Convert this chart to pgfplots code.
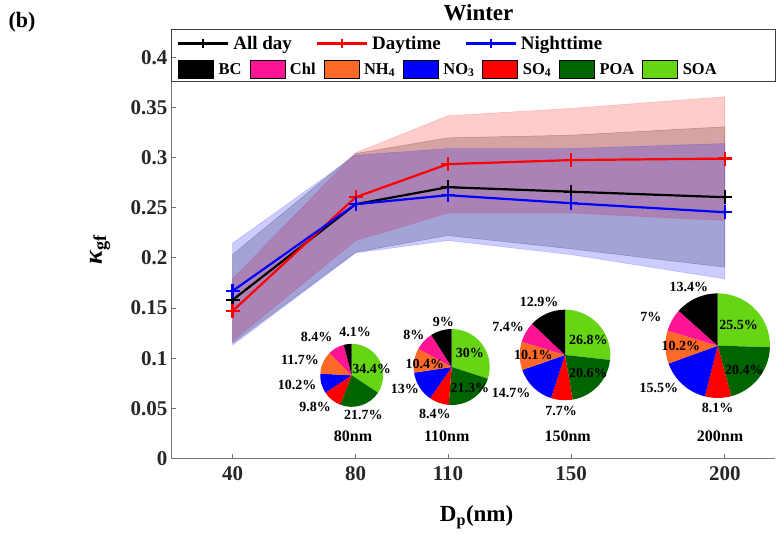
\documentclass[border=0pt]{standalone}
\usepackage{fontspec}
\setmainfont{Liberation Serif}
\usepackage{pgfplots}
\pgfplotsset{compat=1.18}
\definecolor{cSOA}{RGB}{102,214,20}
\definecolor{cPOA}{RGB}{0,100,0}
\definecolor{cSO}{RGB}{255,0,0}
\definecolor{cNO}{RGB}{0,0,255}
\definecolor{cNH}{RGB}{255,105,40}
\definecolor{cChl}{RGB}{255,20,147}
\definecolor{cBC}{RGB}{0,0,0}
\newcommand{\fs}[1]{\fontsize{#1}{#1}\selectfont}
\newcommand{\pie}[4]{%
  \gdef\curang{90}%
  \foreach \v/\c in {#4}{%
    \pgfmathsetmacro\endang{\curang-360*\v/#3}%
    \fill[\c] (#1) -- ++(\curang:#2) arc[start angle=\curang,end angle=\endang,radius=#2] -- cycle;%
    \xdef\curang{\endang}%
  }%
}
\begin{document}
\begin{tikzpicture}
\useasboundingbox (0,0) rectangle (776pt,533pt);
\begin{axis}[
  at={(171pt,74.5pt)}, anchor=south west,
  width=604pt, height=427.5pt, scale only axis,
  xmin=20, xmax=216.3, ymin=0, ymax=0.4262,
  axis x line*=bottom, axis y line*=left,
  axis line style={black!55, line width=0.8pt},
  tick align=inside, major tick length=5pt,
  tick style={black!55, line width=0.8pt},
  xtick={40,80,110,150,200},
  xticklabels={40,80,110,150,200},
  ytick={0,0.05,0.1,0.15,0.2,0.25,0.3,0.35,0.4},
  yticklabels={0,0.05,0.1,0.15,0.2,0.25,0.3,0.35,0.4},
  ticklabel style={font=\bfseries\fs{21}, text=black!85},
  xticklabel style={yshift=-4pt},
  xlabel={D\textsubscript{p}(nm)},
  xlabel style={font=\bfseries\fs{23}, at={(axis description cs:0.506,-0.1485)}, anchor=base},
  ylabel={{\itshape κ}\textsubscript{gf}},
  ylabel style={font=\bfseries\fs{26}, at={(axis description cs:-0.1175,0.488)}, anchor=center},
  title={Winter},
  title style={font=\bfseries\fs{23}, at={(axis description cs:0.509,1.01)}, anchor=base},
  legend columns=3,
  legend cell align=left,
  legend style={at={(axis description cs:0,1)}, anchor=north west, xshift=3pt, yshift=-1pt,
    draw=none, fill=none, font=\bfseries\fs{19},
    /tikz/every odd column/.append style={column sep=2pt},
    /tikz/every even column/.append style={column sep=22pt}},
  legend image code/.code={\draw[#1, mark size=4.5pt, mark repeat=2, mark phase=2] plot coordinates {(0pt,0pt) (25pt,0pt) (50pt,0pt)};},
]
% bands
\addplot[fill=black, fill opacity=0.2, draw=black, draw opacity=0.25, line width=0.5pt, forget plot]
  coordinates {(40,0.2033) (80,0.304) (110,0.3197) (150,0.3223) (200,0.3307)
               (200,0.1907) (150,0.209) (110,0.2223) (80,0.2057) (40,0.115)} -- cycle;
\addplot[fill=red, fill opacity=0.2, draw=red, draw opacity=0.2, line width=0.5pt, forget plot]
  coordinates {(40,0.179) (80,0.3047) (110,0.3417) (150,0.349) (200,0.3607)
               (200,0.2373) (150,0.2447) (110,0.2447) (80,0.2173) (40,0.117)} -- cycle;
\addplot[fill=blue, fill opacity=0.2, draw=blue, draw opacity=0.2, line width=0.5pt, forget plot]
  coordinates {(40,0.2146) (80,0.3023) (110,0.309) (150,0.309) (200,0.314)
               (200,0.179) (150,0.2033) (110,0.2173) (80,0.205) (40,0.113)} -- cycle;
% lines
\addplot[black, line width=2.2pt, mark=+, mark size=7pt]
  coordinates {(40,0.158) (80,0.2535) (110,0.2705) (150,0.266) (200,0.2605)};
\addlegendentry{All day}
\addplot[red, line width=2.2pt, mark=+, mark size=7pt]
  coordinates {(40,0.147) (80,0.2605) (110,0.2935) (150,0.2975) (200,0.299)};
\addlegendentry{Daytime}
\addplot[blue, line width=2.2pt, mark=+, mark size=7pt]
  coordinates {(40,0.167) (80,0.2535) (110,0.2625) (150,0.2545) (200,0.2455)};
\addlegendentry{Nighttime}
\coordinate (p80) at (axis cs:78.73,0.0829);
\coordinate (p110) at (axis cs:111.22,0.0912);
\coordinate (p150) at (axis cs:148.05,0.1032);
\coordinate (p200) at (axis cs:197.67,0.1125);
\end{axis}
\begin{axis}[
  at={(171pt,74.5pt)}, anchor=south west,
  width=604pt, height=427.5pt, scale only axis,
  hide axis, xmin=0, xmax=1, ymin=0, ymax=1,
  legend columns=7,
  legend cell align=left,
  legend style={at={(axis description cs:0,1)}, anchor=north west, xshift=4pt, yshift=-27pt,
    draw=none, fill=none, font=\bfseries\fs{16.5},
    /tikz/every odd column/.append style={column sep=3pt},
    /tikz/every even column/.append style={column sep=6pt}},
  legend image code/.code={\fill[#1] (0pt,-9pt) rectangle (35pt,9pt);},
]
\addlegendimage{fill=cBC}\addlegendentry{BC}
\addlegendimage{fill=cChl}\addlegendentry{Chl}
\addlegendimage{fill=cNH}\addlegendentry{NH\textsubscript{4}}
\addlegendimage{fill=cNO}\addlegendentry{NO\textsubscript{3}}
\addlegendimage{fill=cSO}\addlegendentry{SO\textsubscript{4}}
\addlegendimage{fill=cPOA}\addlegendentry{POA}
\addlegendimage{fill=cSOA}\addlegendentry{SOA}
\end{axis}
\draw[black!75, line width=1pt] (171pt,503pt) rectangle (775pt,451pt);
\node[font=\bfseries\fs{22}] at (22pt,511pt) {(b)};
% pies
\pie{p80}{31.5pt}{100.3}{34.4/cSOA,21.7/cPOA,9.8/cSO,10.2/cNO,11.7/cNH,8.4/cChl,4.1/cBC}
\pie{p110}{38pt}{100.1}{30/cSOA,21.3/cPOA,8.4/cSO,13/cNO,10.4/cNH,8/cChl,9/cBC}
\pie{p150}{45.3pt}{100.2}{26.8/cSOA,20.6/cPOA,7.7/cSO,14.7/cNO,10.1/cNH,7.4/cChl,12.9/cBC}
\pie{p200}{52.3pt}{100.1}{25.5/cSOA,20.4/cPOA,8.1/cSO,15.5/cNO,10.2/cNH,7/cChl,13.4/cBC}
\begin{scope}[every node/.style={font=\bfseries\fs{14}, inner sep=0pt}]
\node at ([shift={(3.3pt,43.6pt)}]p80) {4.1\%};
\node at ([shift={(-35pt,38.6pt)}]p80) {8.4\%};
\node at ([shift={(-51.7pt,15.3pt)}]p80) {11.7\%};
\node at ([shift={(20pt,6pt)}]p80) {34.4\%};
\node at ([shift={(-54.7pt,-9.7pt)}]p80) {10.2\%};
\node at ([shift={(-36.7pt,-32pt)}]p80) {9.8\%};
\node at ([shift={(11.6pt,-39.7pt)}]p80) {21.7\%};
\node at ([shift={(-8.4pt,45.3pt)}]p110) {9\%};
\node at ([shift={(-37.7pt,32pt)}]p110) {8\%};
\node at ([shift={(-26.7pt,3pt)}]p110) {10.4\%};
\node at ([shift={(18.3pt,13.7pt)}]p110) {30\%};
\node at ([shift={(18.3pt,-21.3pt)}]p110) {21.3\%};
\node at ([shift={(-46.7pt,-22pt)}]p110) {13\%};
\node at ([shift={(-16.7pt,-47pt)}]p110) {8.4\%};
\node at ([shift={(-26pt,53pt)}]p150) {12.9\%};
\node at ([shift={(-57pt,28pt)}]p150) {7.4\%};
\node at ([shift={(23.3pt,15pt)}]p150) {26.8\%};
\node at ([shift={(-31.7pt,0pt)}]p150) {10.1\%};
\node at ([shift={(23.3pt,-18.3pt)}]p150) {20.6\%};
\node at ([shift={(-54pt,-37.7pt)}]p150) {14.7\%};
\node at ([shift={(-4pt,-56pt)}]p150) {7.7\%};
\node at ([shift={(-28.7pt,58.7pt)}]p200) {13.4\%};
\node at ([shift={(-66.7pt,28.7pt)}]p200) {7\%};
\node at ([shift={(21pt,20.7pt)}]p200) {25.5\%};
\node at ([shift={(-36.7pt,-0.3pt)}]p200) {10.2\%};
\node at ([shift={(26.6pt,-24.3pt)}]p200) {20.4\%};
\node at ([shift={(-58.7pt,-42.3pt)}]p200) {15.5\%};
\node at ([shift={(0pt,-62pt)}]p200) {8.1\%};
\end{scope}
\begin{scope}[every node/.style={font=\bfseries\fs{16}, inner sep=0pt}]
\node at ([shift={(1.3pt,-61.4pt)}]p80) {80nm};
\node at ([shift={(-5pt,-69.7pt)}]p110) {110nm};
\node at ([shift={(2.7pt,-81.7pt)}]p150) {150nm};
\node at ([shift={(2.3pt,-91pt)}]p200) {200nm};
\end{scope}
\end{tikzpicture}
\end{document}
